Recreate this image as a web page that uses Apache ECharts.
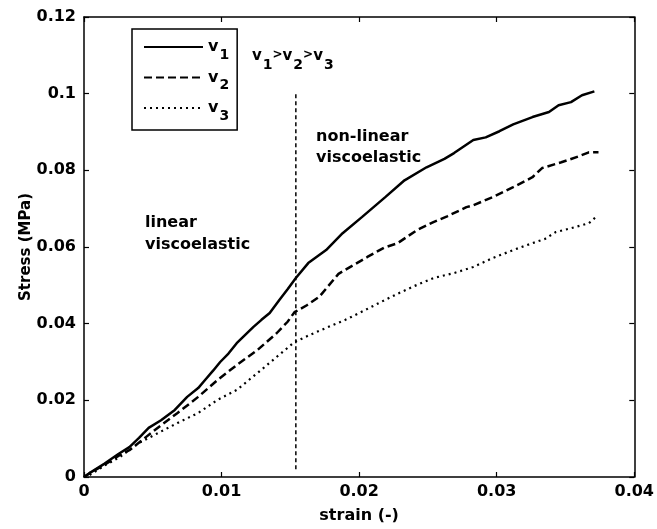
<!DOCTYPE html>
<html>
<head>
<meta charset="utf-8">
<script src="https://cdn.jsdelivr.net/npm/echarts@6/dist/echarts.min.js"></script>
<style>html,body{margin:0;padding:0;background:#fff}#c{width:657px;height:529px}</style>
</head>
<body>
<div id="c"></div>
<script>
// ---- data ----
const xTicks = [0, 0.01, 0.02, 0.03, 0.04];
const yTicks = [0, 0.02, 0.04, 0.06, 0.08, 0.1, 0.12];

const v1Strain = [0,0.0004,0.0015,0.0025,0.0033,0.0040,0.0047,0.0056,0.0066,0.0075,0.0083,0.0088,0.0094,0.0099,0.0105,0.0111,0.0117,0.0123,0.0129,0.0135,0.0142,0.0148,0.0154,0.0163,0.0176,0.0188,0.0202,0.0219,0.0233,0.0249,0.0262,0.0269,0.0283,0.0292,0.0302,0.0312,0.0326,0.0338,0.0345,0.0354,0.0362,0.0371];
const v1Stress = [0,0.0010,0.0035,0.0060,0.0078,0.0102,0.0128,0.0148,0.0175,0.0209,0.0232,0.0253,0.0278,0.0300,0.0322,0.0349,0.0370,0.0391,0.0410,0.0428,0.0462,0.0490,0.0519,0.0558,0.0592,0.0636,0.0678,0.0730,0.0774,0.0808,0.0830,0.0845,0.0879,0.0886,0.0902,0.0920,0.0939,0.0952,0.0970,0.0978,0.0996,0.1006];

const v2Strain = [0,0.0004,0.0015,0.0025,0.0033,0.0045,0.0056,0.0068,0.0083,0.0097,0.0111,0.0126,0.0140,0.0148,0.0153,0.0162,0.0171,0.0185,0.0206,0.0218,0.0228,0.0242,0.0254,0.0264,0.0278,0.0283,0.0297,0.0312,0.0326,0.0333,0.0347,0.0360,0.0367,0.0374];
const v2Stress = [0,0.0010,0.0032,0.0055,0.0070,0.0104,0.0135,0.0167,0.0209,0.0253,0.0292,0.0331,0.0375,0.0405,0.0430,0.0448,0.0470,0.0530,0.0574,0.0598,0.0610,0.0644,0.0665,0.0680,0.0704,0.0709,0.0730,0.0756,0.0782,0.0806,0.0821,0.0837,0.0847,0.0847];

const v3Strain = [0,0.0004,0.0015,0.0026,0.0040,0.0054,0.0068,0.0083,0.0097,0.0111,0.0126,0.0140,0.0153,0.0165,0.0176,0.0190,0.0203,0.0215,0.0228,0.0240,0.0254,0.0269,0.0283,0.0297,0.0312,0.0326,0.0335,0.0343,0.0354,0.0367,0.0372];
const v3Stress = [0,0.0005,0.0030,0.0052,0.0089,0.0115,0.0141,0.0167,0.0201,0.0227,0.0271,0.0313,0.0352,0.0372,0.0389,0.0410,0.0433,0.0455,0.0478,0.0498,0.0519,0.0532,0.0548,0.0571,0.0592,0.0610,0.0621,0.0639,0.0649,0.0662,0.0678];

const boundaryStrain = [0.0154, 0.0154];
const boundaryStress = [0.002, 0.1];

const seriesNames = ['v1', 'v2', 'v3'];

// ---- chart ----
const zip = (a, b) => a.map((x, i) => [x, b[i]]);
const FONT = '"DejaVu Sans", sans-serif';
const chart = echarts.init(document.getElementById('c'), null, {renderer: 'canvas'});

const axisCommon = {
  type: 'value',
  axisLine: {show: true, onZero: false, lineStyle: {color: '#000', width: 1.5}},
  axisTick: {show: true, inside: true, length: 5, lineStyle: {color: '#000', width: 1.2}},
  splitLine: {show: false}
};

const labelStyle = {color: '#000', fontFamily: FONT, fontWeight: 'bold', fontSize: 16};

const richSub = (p, vs) => ({
  v: {fontFamily: FONT, fontWeight: 'bold', fontSize: vs, lineHeight: 16, color: '#000'},
  s: {fontFamily: FONT, fontWeight: 'bold', fontSize: 14, lineHeight: 14, padding: [p, 0, 0, 1], color: '#000'},
  g: {fontFamily: FONT, fontWeight: 'bold', fontSize: 12, lineHeight: 14, padding: [0, 0, 3, 0], color: '#000'}
});

chart.setOption({
  animation: false,
  backgroundColor: '#fff',
  grid: {left: 84, right: 17, top: 17, bottom: 52, containLabel: false},
  xAxis: [
    Object.assign({}, axisCommon, {
      position: 'bottom', min: xTicks[0], max: xTicks[xTicks.length - 1], interval: 0.01,
      axisLabel: Object.assign({margin: 7}, labelStyle),
      name: 'strain (-)', nameLocation: 'middle', nameGap: 31, nameMoveOverlap: false,
      nameTextStyle: {color: '#000', fontFamily: FONT, fontWeight: 'bold', fontSize: 16}
    }),
    Object.assign({}, axisCommon, {
      position: 'top', min: xTicks[0], max: xTicks[xTicks.length - 1], interval: 0.01,
      axisLabel: {show: false}
    })
  ],
  yAxis: [
    Object.assign({}, axisCommon, {
      position: 'left', min: yTicks[0], max: yTicks[yTicks.length - 1], interval: 0.02,
      axisLabel: Object.assign({margin: 8}, labelStyle),
      name: 'Stress (MPa)', nameLocation: 'middle', nameGap: 50, nameMoveOverlap: false,
      nameTextStyle: {color: '#000', fontFamily: FONT, fontWeight: 'bold', fontSize: 15}
    }),
    Object.assign({}, axisCommon, {
      position: 'right', min: yTicks[0], max: yTicks[yTicks.length - 1], interval: 0.02,
      axisLabel: {show: false}
    })
  ],
  legend: {
    data: seriesNames,
    orient: 'vertical',
    left: 132, top: 29,
    padding: [3, 8, 7, 11],
    itemWidth: 59, itemHeight: 14, itemGap: 0.5,
    borderColor: '#000', borderWidth: 1.5, borderRadius: 0,
    backgroundColor: '#fff',
    itemStyle: {opacity: 0},
    formatter: (n) => '{v|v}{s|' + n.slice(1) + '}',
    textStyle: {color: '#000', rich: richSub(16, 16)}
  },
  series: [
    {name: 'v1', type: 'line', data: zip(v1Strain, v1Stress), symbol: 'none', z: 3,
     lineStyle: {color: '#000', width: 2.5, type: 'solid'}, itemStyle: {color: '#000'}},
    {name: 'v2', type: 'line', data: zip(v2Strain, v2Stress), symbol: 'none', z: 3,
     lineStyle: {color: '#000', width: 2.5, type: [8, 4]}, itemStyle: {color: '#000'}},
    {name: 'v3', type: 'line', data: zip(v3Strain, v3Stress), symbol: 'none', z: 3,
     lineStyle: {color: '#000', width: 2.2, type: [2, 4]}, itemStyle: {color: '#000'}},
    {name: 'boundary', type: 'line', data: zip(boundaryStrain, boundaryStress), symbol: 'none', z: 2,
     lineStyle: {color: '#000', width: 1.5, type: [4, 3]}, itemStyle: {color: '#000'}}
  ],
  graphic: [
    {type: 'text', x: 252, y: 56, style: {
      text: '{v|v}{s|1}{g|>}{v|v}{s|2}{g|>}{v|v}{s|3}', rich: richSub(18, 15),
      verticalAlign: 'middle', align: 'left', fill: '#000'}},
    {type: 'text', x: 316, y: 137, style: {text: 'non-linear', font: 'bold 16px ' + FONT, fill: '#000', verticalAlign: 'middle', align: 'left'}},
    {type: 'text', x: 316, y: 158, style: {text: 'viscoelastic', font: 'bold 16px ' + FONT, fill: '#000', verticalAlign: 'middle', align: 'left'}},
    {type: 'text', x: 145, y: 223, style: {text: 'linear', font: 'bold 16px ' + FONT, fill: '#000', verticalAlign: 'middle', align: 'left'}},
    {type: 'text', x: 145, y: 245, style: {text: 'viscoelastic', font: 'bold 16px ' + FONT, fill: '#000', verticalAlign: 'middle', align: 'left'}}
  ]
});
</script>
</body>
</html>
